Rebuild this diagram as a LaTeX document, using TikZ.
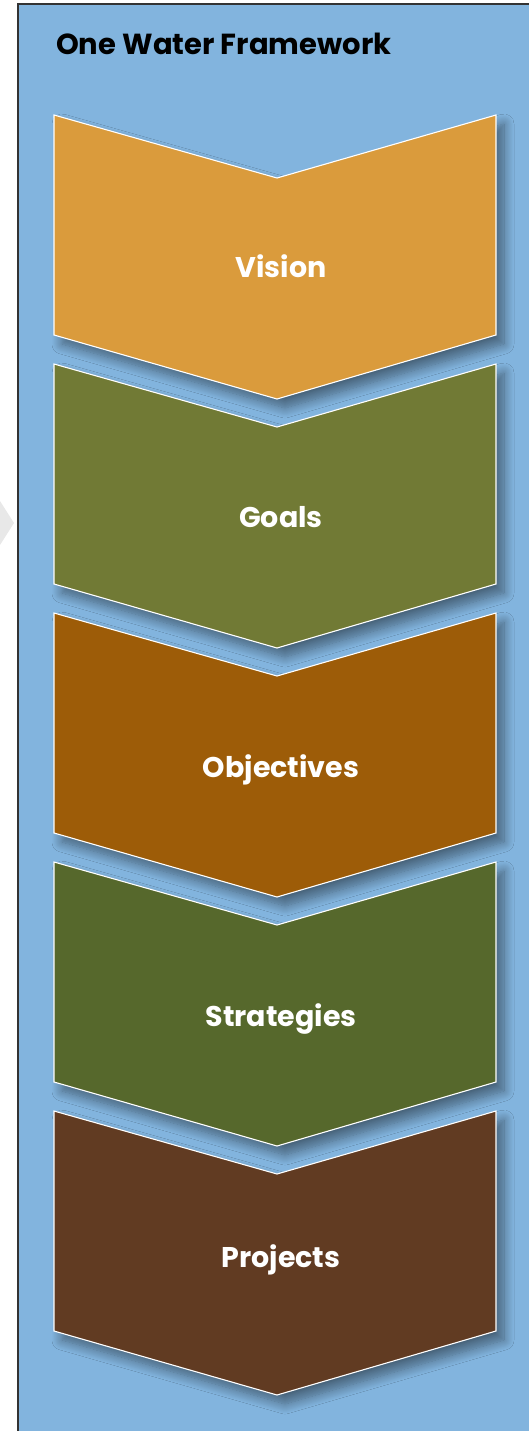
\documentclass[tikz,border=0pt]{standalone}
\usepackage{fontspec}
\setmainfont{Poppins}
\usetikzlibrary{shadows.blur}
\definecolor{panelblue}{RGB}{130,180,222}
\definecolor{visioncol}{RGB}{218,155,60}
\definecolor{goalscol}{RGB}{113,122,53}
\definecolor{objcol}{RGB}{157,92,8}
\definecolor{stratcol}{RGB}{86,104,44}
\definecolor{projcol}{RGB}{97,59,34}
\tikzset{
        chev/.style={
            draw=white, line width=1.1pt, line join=miter,
            blur shadow={shadow xshift=8pt, shadow yshift=-9pt,
                shadow blur radius=10pt, shadow blur steps=14,
                shadow opacity=45},
        },
    }

\begin{document}
\begin{tikzpicture}[
          x=1pt, y=-1pt,
          lbl/.style = {text=white, anchor=base, inner sep=0pt, font=\fontsize{28.5}{34}\selectfont\bfseries},
          ttl/.style = {text=black, anchor=base west, inner sep=0pt, font=\fontsize{29}{34}\selectfont\bfseries}
          ]
 \useasboundingbox (0,0) rectangle (529,1431);
 % left-hand chevron, cut off
 \fill[gray!18] (0,501) -- (14,523) -- (0,545) -- cycle;
 % panel
 \filldraw[fill=panelblue, draw=black!80, line width=1.2pt] (18,4) rectangle (540,1440);
 \node[ttl] (title) at (56,55) {One Water Framework};
          %\draw (0,0) grid (529,1431);
 \filldraw[chev, fill=visioncol] (54,115) -- (277,178) -- (496,115) -- (496,335) -- (277,399) -- (54,335) -- cycle;
 \filldraw[chev, fill=goalscol] (54,364) -- (277,427) -- (496,364) -- (496,584) -- (277,648) -- (54,584) -- cycle;
 \filldraw[chev, fill=objcol] (54,613) -- (277,676) -- (496,613) -- (496,833) -- (277,897) -- (54,833) -- cycle;
 \filldraw[chev, fill=stratcol] (54,862) -- (277,925) -- (496,862) -- (496,1082) -- (277,1146) -- (54,1082) -- cycle;
 \filldraw[chev, fill=projcol] (54,1111) -- (277,1174) -- (496,1111) -- (496,1331) -- (277,1395) -- (54,1331) -- cycle;
 \node[lbl] (vision) at (281,277) {Vision};
 \node[lbl] (goals) at (281,527) {Goals};
 \node[lbl] (objectives) at (281,777) {Objectives};
 \node[lbl] (strategies) at (281,1026) {Strategies};
 \node[lbl] (projects) at (281,1267) {Projects};
\end{tikzpicture}
\end{document}
